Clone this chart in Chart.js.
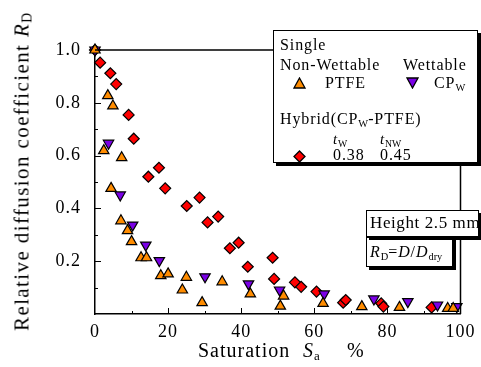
<!DOCTYPE html>
<html>
<head>
<meta charset="utf-8">
<script src="https://cdn.jsdelivr.net/npm/chart.js@4"></script>
<style>
  body { margin: 0; background: #fff; }
  #wrap { position: relative; width: 481px; height: 367px; overflow: hidden; font-family: "Liberation Serif", serif; color: #000; }
  #chart { position: absolute; left: 0; top: 0; }
  .t { position: absolute; white-space: nowrap; line-height: 18px; font-size: 16px; letter-spacing: 0.9px; }
  sub { font-size: 65%; vertical-align: -3px; line-height: 0; letter-spacing: 0; }
  .box { position: absolute; background: #fff; border: 1.5px solid #000; box-shadow: 3px 3px 0 #000; box-sizing: border-box; }
  .xt { position: absolute; top: 339px; font-size: 20px; white-space: nowrap; letter-spacing: 1px; }
  .ytitle { position: absolute; left: 22px; top: 172px; font-size: 21px; letter-spacing: 1.4px; white-space: nowrap; transform: translate(-50%, -50%) rotate(-90deg); }
</style>
</head>
<body>
<div id="wrap">
  <canvas id="chart" width="481" height="367"></canvas>

  <div class="ytitle">Relative diffusion coefficient <i>R</i><sub>D</sub></div>
  <div class="xt" style="left:198px;">Saturation</div>
  <div class="xt" style="left:303px;"><i>S</i><sub>a</sub></div>
  <div class="xt" style="left:347px;">%</div>

  <div class="box" style="left:273px;top:30px;width:205px;height:133px;">
    <div class="t" style="left:6px;top:5px;">Single</div>
    <div class="t" style="left:6px;top:25px;">Non-Wettable</div>
    <div class="t" style="left:129px;top:25px;">Wettable</div>
    <svg style="position:absolute;left:19px;top:46px;" width="13" height="12"><polygon points="6.5,1 12,11 1,11" fill="#ff8c00" stroke="#000" stroke-width="1.3"/></svg>
    <div class="t" style="left:51px;top:43px;">PTFE</div>
    <svg style="position:absolute;left:132px;top:46px;" width="13" height="12"><polygon points="1,1 12,1 6.5,11" fill="#7a00e6" stroke="#000" stroke-width="1.3"/></svg>
    <div class="t" style="left:160px;top:43px;">CP<sub>W</sub></div>
    <div class="t" style="left:6px;top:79px;">Hybrid(CP<sub>W</sub>-PTFE)</div>
    <div class="t" style="left:59px;top:99px;font-size:15px;"><i>t</i><sub>W</sub></div>
    <div class="t" style="left:106px;top:99px;font-size:15px;"><i>t</i><sub>NW</sub></div>
    <svg style="position:absolute;left:19px;top:119px;" width="13" height="13"><polygon points="6.5,1 12,6.5 6.5,12 1,6.5" fill="#ff0000" stroke="#000" stroke-width="1.3"/></svg>
    <div class="t" style="left:59px;top:115px;">0.38</div>
    <div class="t" style="left:106px;top:115px;">0.45</div>
  </div>

  <div class="box" style="left:366px;top:237px;width:87px;height:30px;">
    <div class="t" style="left:3px;top:5px;"><i>R</i><sub>D</sub>=<i>D</i>/<i>D</i><sub>dry</sub></div>
  </div>
  <div class="box" style="left:366px;top:210px;width:113px;height:27px;">
    <div class="t" style="left:3px;top:3px;font-size:17px;letter-spacing:0.6px;">Height 2.5 mm</div>
  </div>
</div>

<script>
// Saturation Sa (%) and relative diffusion coefficient RD
const ptfeX = [0, 3.5, 4.9, 2.4, 7.3, 4.4, 7.1, 8.9, 10, 12.6, 14.1, 18, 20, 25, 23.9, 29.3, 34.8, 42.5, 51.6, 50.7, 62.4, 73, 83.3, 96.5, 98];
const ptfeY = [1.0, 0.827, 0.788, 0.619, 0.592, 0.476, 0.353, 0.316, 0.274, 0.213, 0.213, 0.145, 0.152, 0.139, 0.091, 0.043, 0.122, 0.076, 0.068, 0.03, 0.04, 0.028, 0.025, 0.021, 0.021];

const cpwX = [0, 3.7, 6.9, 10.3, 13.9, 17.6, 30.1, 42, 50.5, 62.7, 76.3, 85.6, 93.7, 99];
const cpwY = [1.0, 0.647, 0.451, 0.337, 0.261, 0.202, 0.141, 0.114, 0.091, 0.076, 0.057, 0.047, 0.034, 0.028];

const hybridX = [0, 1.4, 4.2, 5.8, 9.2, 10.6, 17.5, 14.6, 19.2, 25.1, 28.6, 30.8, 33.7, 36.9, 39.3, 41.8, 48.6, 49, 54.7, 56.4, 60.6, 67.9, 68.6, 78.3, 78.9, 92.1];
const hybridY = [1.0, 0.952, 0.912, 0.871, 0.754, 0.664, 0.554, 0.52, 0.476, 0.409, 0.441, 0.347, 0.369, 0.249, 0.27, 0.179, 0.213, 0.133, 0.12, 0.103, 0.085, 0.043, 0.053, 0.04, 0.028, 0.025];

const xTicks = [0, 20, 40, 60, 80, 100];
const yTicks = [0.2, 0.4, 0.6, 0.8, 1.0];

function pts(xs, ys) {
  return xs.map((x, i) => ({ x: x, y: ys[i] }));
}

// wider spacing for the tick numbers, like the original figure
const spacingPlugin = {
  id: 'spacing',
  beforeDraw(chart) {
    chart.ctx.letterSpacing = '1px';
  }
};

// frame lines on top and right, plus inward ticks (major + minor)
const framePlugin = {
  id: 'frame',
  afterDraw(chart) {
    const ctx = chart.ctx;
    const a = chart.chartArea;
    const xs = chart.scales.x, ys = chart.scales.y;
    ctx.save();
    ctx.strokeStyle = '#000';
    ctx.lineWidth = 1.5;
    ctx.beginPath();
    ctx.moveTo(a.left, a.top);
    ctx.lineTo(a.right, a.top);
    ctx.lineTo(a.right, a.bottom);
    ctx.stroke();
    ctx.lineWidth = 1;
    ctx.beginPath();
    for (let v = 10; v < 100; v += 10) {
      const px = Math.round(xs.getPixelForValue(v)) + 0.5;
      ctx.moveTo(px, a.bottom);
      ctx.lineTo(px, a.bottom - (v % 20 === 0 ? 6 : 3));
    }
    for (let k = 1; k < 10; k++) {
      const py = Math.round(ys.getPixelForValue(k / 10)) + 0.5;
      ctx.moveTo(a.left, py);
      ctx.lineTo(a.left + (k % 2 === 0 ? 6 : 3), py);
    }
    ctx.stroke();
    ctx.restore();
  }
};

const tickFont = { family: 'Liberation Serif', size: 18 };

new Chart(document.getElementById('chart'), {
  type: 'scatter',
  data: {
    datasets: [
      {
        label: 'PTFE',
        data: pts(ptfeX, ptfeY),
        pointStyle: 'triangle',
        radius: 6,
        backgroundColor: '#ff8c00',
        borderColor: '#000',
        borderWidth: 1.2,
        clip: false
      },
      {
        label: 'CPW',
        data: pts(cpwX, cpwY),
        pointStyle: 'triangle',
        rotation: 180,
        radius: 6,
        backgroundColor: '#7a00e6',
        borderColor: '#000',
        borderWidth: 1.2,
        clip: false
      },
      {
        label: 'Hybrid',
        data: pts(hybridX, hybridY),
        pointStyle: 'rectRot',
        radius: 5.5,
        backgroundColor: '#ff0000',
        borderColor: '#000',
        borderWidth: 1.2,
        clip: false
      }
    ]
  },
  options: {
    responsive: false,
    animation: false,
    layout: { padding: { top: 50, right: 18, left: 0, bottom: 0 } },
    plugins: {
      legend: { display: false },
      tooltip: { enabled: false }
    },
    scales: {
      x: {
        type: 'linear',
        min: 0,
        max: 100,
        afterFit: s => { s.height = 53; },
        afterBuildTicks: s => { s.ticks = xTicks.map(v => ({ value: v })); },
        ticks: { color: '#000', font: tickFont, padding: 7, maxRotation: 0 },
        grid: { display: true, drawOnChartArea: false, drawTicks: false },
        border: { color: '#000', width: 1.5 }
      },
      y: {
        type: 'linear',
        min: 0,
        max: 1.0,
        afterFit: s => { s.width = 95; },
        afterBuildTicks: s => { s.ticks = yTicks.map(v => ({ value: v })); },
        ticks: { color: '#000', font: tickFont, padding: 14, callback: v => v.toFixed(1) },
        grid: { display: true, drawOnChartArea: false, drawTicks: false },
        border: { color: '#000', width: 1.5 }
      }
    }
  },
  plugins: [spacingPlugin, framePlugin]
});
</script>
</body>
</html>
